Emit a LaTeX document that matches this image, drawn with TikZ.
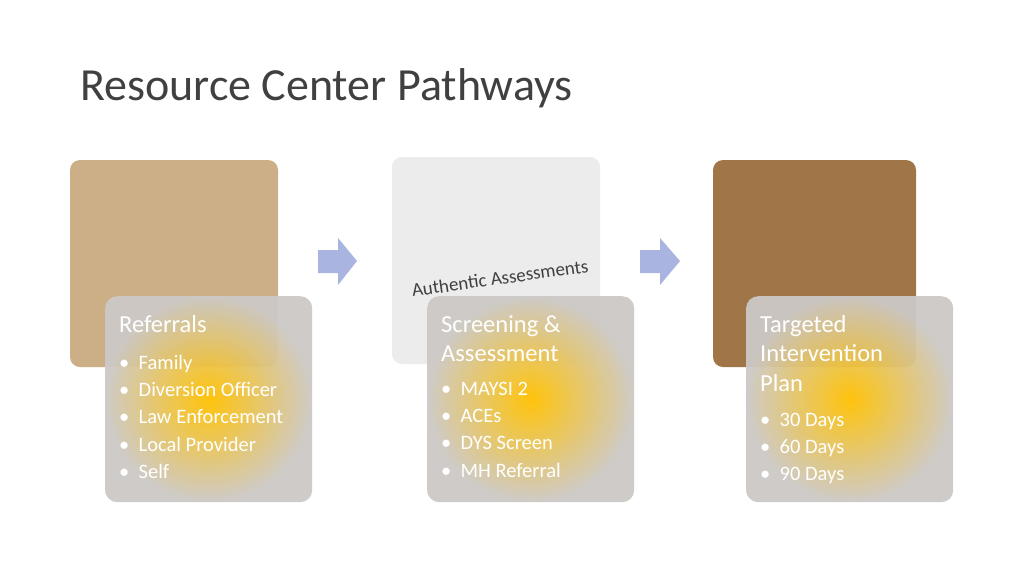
\documentclass[tikz,border=0pt]{standalone}
\usepackage{fontspec}
\setmainfont{Carlito}
\definecolor{titlec}{HTML}{404040}
\definecolor{cardg}{HTML}{CCC9C6}
\definecolor{cardo}{HTML}{FFC000}
\definecolor{arrowc}{HTML}{A9B4E0}
\begin{document}
\begin{tikzpicture}[x=1pt,y=-1pt,
  photo/.style={rounded corners=10pt},
  card/.style={rounded corners=12pt, inner color=cardo, outer color=cardg, minimum width=207pt, minimum height=206pt, anchor=north west, opacity=0.95},
  head/.style={anchor=north west, text=white, font=\fontsize{24.5}{29.5}\selectfont, align=left, inner sep=0pt},
  items/.style={anchor=north west, text=white, font=\fontsize{20.5}{27.2}\selectfont, align=left, inner sep=0pt},
  blockarrow/.style={fill=arrowc}]
\useasboundingbox (0,0) rectangle (1024,576);
\fill[white] (0,0) rectangle (1024,576);
\node[anchor=base west, text=titlec, font=\fontsize{46}{52}\selectfont, inner sep=0pt] (title) at (80,100) {Resource Center Pathways};
% photos
\fill[photo, color={rgb,255:red,205;green,175;blue,135}] (70,160) rectangle (278,367);
\fill[photo, color={rgb,255:red,236;green,236;blue,236}] (392,157) rectangle (600,364);
\node[rotate=8, font=\fontsize{19}{22}\selectfont, text=titlec] (aa) at (500,278) {Authentic Assessments};
\fill[photo, color={rgb,255:red,160;green,118;blue,72}] (713,160) rectangle (916,367);
% arrows
\fill[blockarrow] (318,250) -- (338,250) -- (338,238) -- (357,261) -- (338,285) -- (338,273) -- (318,273) -- cycle;
\fill[blockarrow] (640,250) -- (660,250) -- (660,238) -- (680,261) -- (660,285) -- (660,273) -- (640,273) -- cycle;
% cards
\node[card] (c1) at (105,296) {};
\node[card] (c2) at (427,296) {};
\node[card] (c3) at (746,296) {};
\node[head] (h1) at ([xshift=14pt,yshift=-19pt]c1.north west) {Referrals};
\node[items] (l1) at ([xshift=14pt,yshift=-59pt]c1.north west) {• \ Family\\• \ Diversion Officer\\• \ Law Enforcement\\• \ Local Provider\\• \ Self};
\node[head] (h2) at ([xshift=14pt,yshift=-19pt]c2.north west) {Screening \&\\Assessment};
\node[items] (l2) at ([xshift=14pt,yshift=-86pt]c2.north west) {• \ MAYSI 2\\• \ ACEs\\• \ DYS Screen\\• \ MH Referral};
\node[head] (h3) at ([xshift=14pt,yshift=-19pt]c3.north west) {Targeted\\Intervention\\Plan};
\node[items] (l3) at ([xshift=14pt,yshift=-117pt]c3.north west) {• \ 30 Days\\• \ 60 Days\\• \ 90 Days};
\end{tikzpicture}
\end{document}
